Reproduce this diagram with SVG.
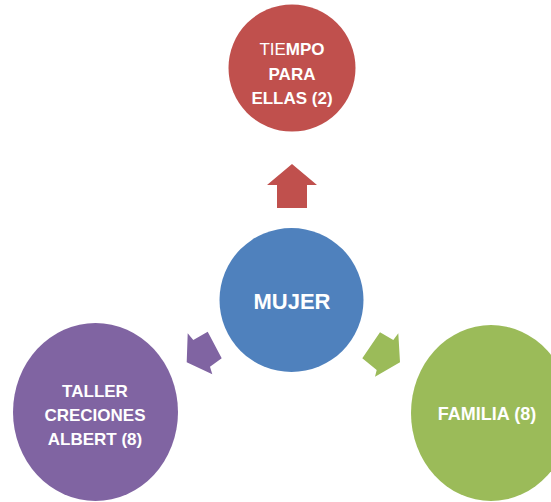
<svg xmlns="http://www.w3.org/2000/svg" width="551" height="502" viewBox="0 0 551 502">
<style>
.t{font-family:"Liberation Sans",Arial,sans-serif;font-weight:bold;fill:#fff;text-anchor:middle;font-size:17px}
.n{font-weight:normal}
</style>
<rect width="551" height="502" fill="#fff"/>
<g id="connectors">
<polygon points="292,164 317,185 307,185 307,208 277,208 277,185 267,185" fill="#C0504D"/>
<polygon points="186.7,362.3 187.7,333.3 193.3,340 207.7,331.7 221.7,358.3 210,366.7 212.3,374.3" fill="#8064A2"/>
<polygon points="400,362.3 398.3,333.3 393.3,340 380,332.3 362.3,358.3 376.7,370 375,376.7" fill="#9BBB59"/>
</g>
<g id="node-tiempo">
<circle cx="292" cy="68" r="63.5" fill="#C0504D"/>
<text class="t" x="292" y="55"><tspan class="n">TIE</tspan>MPO</text>
<text class="t" x="292" y="80">PARA</text>
<text class="t" x="292" y="104">ELLAS (2)</text>
</g>
<g id="node-mujer">
<circle cx="291.5" cy="300" r="72" fill="#4F81BD"/>
<text class="t" x="292" y="309" style="font-size:22px">MUJER</text>
</g>
<g id="node-taller">
<ellipse cx="95.5" cy="412" rx="82.5" ry="89" fill="#8064A2"/>
<text class="t" x="95" y="397">TALLER</text>
<text class="t" x="95" y="421">CRECIONES</text>
<text class="t" x="95" y="445">ALBERT (8)</text>
</g>
<g id="node-familia">
<ellipse cx="491" cy="413" rx="80" ry="88" fill="#9BBB59"/>
<text class="t" x="487" y="420" style="font-size:18px">FAMILIA (8)</text>
</g>
</svg>
